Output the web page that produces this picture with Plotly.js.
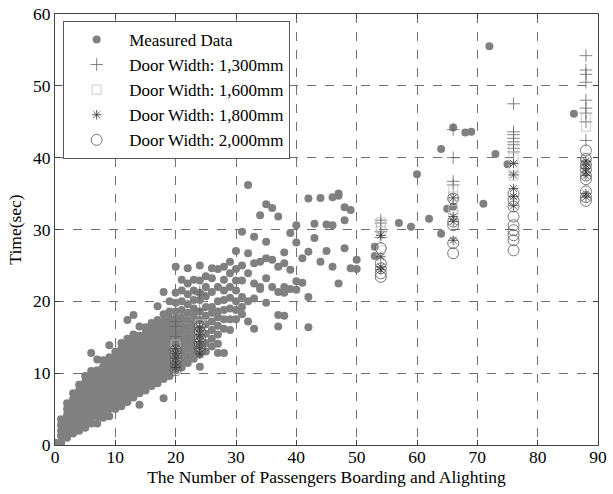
<!DOCTYPE html>
<html><head><meta charset="utf-8">
<script src="https://cdn.plot.ly/plotly-3.0.1.min.js"></script>
<style>html,body{margin:0;padding:0;background:#fff}#chart{width:613px;height:494px}</style>
</head><body><div id="chart"></div>
<script>
// Measured data: [passengers, time]
const measured = [
[0,0],[0,0.3],
[1,0],[1,0.4],[1,1.3],[1,2],[1,2.8],[1,3.6],
[2,1],[2,1.8],[2,2.6],[2,3.4],[2,4.2],[2,5],[2,5.8],
[3,1.6],[3,2.4],[3,3.2],[3,4],[3,4.8],[3,5.6],[3,6.4],[3,7.2],
[4,2],[4,2.8],[4,3.6],[4,4.4],[4,5.2],[4,6],[4,6.8],[4,7.6],[4,8.4],
[5,2.4],[5,3.2],[5,4],[5,4.8],[5,5.6],[5,6.4],[5,7.2],[5,8],[5,8.8],[5,9.6],
[6,3],[6,3.8],[6,4.6],[6,5.4],[6,6.2],[6,7],[6,7.8],[6,8.6],[6,9.4],[6,10.3],[6,12.8],
[7,3],[7,4],[7,4.8],[7,5.6],[7,6.4],[7,7.2],[7,8],[7,8.8],[7,9.6],[7,10.4],[7,11.9],
[8,3.8],[8,4.6],[8,5.4],[8,6.2],[8,7],[8,7.8],[8,8.6],[8,9.4],[8,10.2],[8,11],[8,11.8],
[9,4],[9,5],[9,5.8],[9,6.6],[9,7.4],[9,8.2],[9,9],[9,9.8],[9,10.6],[9,11.4],[9,12.2],[9,13.9],
[10,5],[10,5.8],[10,6.6],[10,7.4],[10,8.2],[10,9],[10,9.8],[10,10.6],[10,11.4],[10,12.2],[10,13],
[11,5.4],[11,6.2],[11,7],[11,7.8],[11,8.6],[11,9.4],[11,10.2],[11,11],[11,11.8],[11,12.6],[11,13.4],[11,14.2],
[12,6],[12,6.8],[12,7.6],[12,8.4],[12,9.2],[12,10],[12,10.8],[12,11.6],[12,12.4],[12,13.2],[12,14],[12,14.8],[12,17.4],
[13,6.6],[13,7.4],[13,8.2],[13,9],[13,9.8],[13,10.6],[13,11.4],[13,12.2],[13,13],[13,13.8],[13,14.6],[13,15.4],[13,18.1],
[14,5.6],[14,7.2],[14,8],[14,8.8],[14,9.6],[14,10.4],[14,11.2],[14,12],[14,12.8],[14,13.6],[14,14.4],[14,15.2],[14,16.5],
[15,7.6],[15,8.4],[15,9.2],[15,10],[15,10.8],[15,11.6],[15,12.4],[15,13.2],[15,14],[15,14.8],[15,15.6],[15,16.4],
[16,8.2],[16,9],[16,9.8],[16,10.6],[16,11.4],[16,12.2],[16,13],[16,13.8],[16,14.6],[16,15.4],[16,16.2],[16,17],
[17,8.6],[17,9.4],[17,10.2],[17,11],[17,11.8],[17,12.6],[17,13.4],[17,14.2],[17,15],[17,15.8],[17,16.6],[17,17.4],[17,19.3],
[18,6.5],[18,9.2],[18,10],[18,10.8],[18,11.6],[18,12.4],[18,13.2],[18,14],[18,14.8],[18,15.6],[18,16.4],[18,17.2],[18,18.2],[18,21.3],
[19,9.6],[19,10.4],[19,11.2],[19,12],[19,12.8],[19,13.6],[19,14.4],[19,15.2],[19,16],[19,16.8],[19,17.6],[19,18.6],[19,20],
[20,10.4],[20,11.2],[20,12],[20,12.8],[20,13.6],[20,14.4],[20,15.2],[20,16],[20,16.8],[20,17.6],[20,18.6],[20,19.8],[20,21.2],[20,24.8],
[21,10.8],[21,11.8],[21,12.8],[21,13.8],[21,14.8],[21,15.8],[21,16.8],[21,17.8],[21,18.8],[21,20],[21,21.5],[21,23],
[22,11.4],[22,12.4],[22,13.4],[22,14.4],[22,15.4],[22,16.4],[22,17.4],[22,18.4],[22,19.6],[22,21],[22,22.5],[22,24.6],
[23,12],[23,13],[23,14],[23,15],[23,16],[23,17],[23,18],[23,19],[23,20.2],[23,21.5],[23,23],
[24,10.9],[24,12.6],[24,13.8],[24,15],[24,16.2],[24,17.4],[24,18.6],[24,20.2],[24,21.2],[24,22.9],[24,25],
[25,13],[25,14.2],[25,15.5],[25,16.8],[25,18],[25,19.2],[25,20.7],[25,22],[25,23.5],
[26,13.7],[26,14.8],[26,16],[26,17.2],[26,18.4],[26,19.2],[26,21.3],[26,23.2],[26,24.6],
[27,12.8],[27,14.1],[27,15.4],[27,16.6],[27,17.8],[27,18.6],[27,20],[27,22],[27,24.5],
[28,12.8],[28,16.2],[28,17.5],[28,18.8],[28,20.2],[28,21.5],[28,23],[28,24.8],
[29,16],[29,17.5],[29,19],[29,20.5],[29,22],[29,23.9],[29,25.5],
[30,17.5],[30,18.8],[30,20],[30,21.5],[30,22.9],[30,24.5],[30,27],
[31,18.2],[31,19.2],[31,20.6],[31,22.9],[31,25],[31,29.7],
[32,17.2],[32,20],[32,23.9],[32,26.7],[32,36.2],
[33,16.2],[33,20.4],[33,22.5],[33,25.3],[33,29],
[34,21.7],[34,22],[34,25.5],[34,32],
[35,19.8],[35,23.2],[35,26],[35,28.3],[35,33.5],
[36,22],[36,25.8],[36,33],
[37,16.5],[37,18.1],[37,21.3],[37,24.8],[37,31.8],
[38,18],[38,21.2],[38,22],[38,25.3],[38,26.8],
[39,21.7],[39,24.4],[39,29.5],
[40,21.6],[40,22.8],[40,28.2],[40,30.6],
[41,22.6],[41,26],
[42,16.4],[42,20.6],[42,26.9],[42,34.3],
[43,28.8],[43,30.8],
[44,25.5],[44,34.4],
[45,27],[45,30.7],
[46,24.8],[46,34.5],[46,30.6],
[47,35],[47,34.7],[47,22.5],
[48,33.1],[48,31.3],[48,27.4],
[49,24.6],[49,32.7],
[50,24.5],[50,25.8],
[53,27.6],[53,26.3],
[57,30.9],[59,30.4],[60,37.7],[62,31.5],[64,29.4],[64,41.2],
[65,32.9],[66,33.2],[66,44.2],[68,43.5],[69,43.6],[71,33.6],
[72,55.5],[73,40.5],[75,39.1],[86,46.1]
];

// Simulated results: columns at these passenger counts
const simX = [20, 24, 54, 66, 76, 88];
const w1300 = [[17.2,16.5,15.1,14.6,13.2],[21.3,20.9,18.8,16.5],[31.3,30.9,29.7,28.9],[43.9,40,36.7,36.2],[47.5,43.6,43.2,42.7,42.2,41.8,41.3,40.8],[54.2,52.2,51.6,50.5,48,46.9,46.2,45,42.4]];
const w1600 = [[14,13,12.5,12],[16.8,16,15,14],[31,30.4,29.8,27.1],[35.5,34.6,32.7,32],[41.5,40,38.5,37.5],[45.5,44.3,40,39]];
const w1800 = [[13.4,12.7,12.1,11.4,10.8],[16.3,15.4,14.4,13.4,12.7],[29.2,26.2,24.8,24.4],[34.4,31.8,31.1,28.5],[39.2,37.6,35.7,34.6,33.3],[39.5,39,38.5,38,37.5,35,34.5]];
const w2000 = [[13.2,12.6,11.9,11.2,10.4],[16.5,15.8,14.9,14.2,13.7,13.2],[27.4,25.3,24.6,23.9,23.4],[34.3,31.1,30.6,28.1,26.7],[35,34.1,33.2,31.8,30.6,29.9,29.2,28.5,27.1],[41,39.8,39,38.3,37.5,37,35.3,34.5,34]];

const seriesNames = ['Measured Data','Door Width: 1,300mm','Door Width: 1,600mm','Door Width: 1,800mm','Door Width: 2,000mm'];
const xTicks = [0,10,20,30,40,50,60,70,80,90];
const yTicks = [0,10,20,30,40,50,60];

function flatten(cols){
  const x=[],y=[];
  cols.forEach((c,i)=>c.forEach(v=>{x.push(simX[i]);y.push(v);}));
  return {x,y};
}
const s1=flatten(w1300), s2=flatten(w1600), s3=flatten(w1800), s4=flatten(w2000);

const traces = [
  {x: measured.map(p=>p[0]), y: measured.map(p=>p[1]), mode:'markers', type:'scatter', name:seriesNames[0],
   marker:{symbol:'circle', size:8, color:'#808080', line:{width:0}}},
  {x:s1.x, y:s1.y, mode:'markers', type:'scatter', name:seriesNames[1],
   marker:{symbol:'cross-thin-open', size:9, color:'#666666', line:{width:0.8, color:'#666666'}}},
  {x:s2.x, y:s2.y, mode:'markers', type:'scatter', name:seriesNames[2],
   marker:{symbol:'square-open', size:9, color:'#c0c0c0', line:{width:0.8, color:'#c0c0c0'}}},
  {x:s3.x, y:s3.y, mode:'markers', type:'scatter', name:seriesNames[3],
   marker:{symbol:'asterisk-open', size:8, color:'#333333', line:{width:0.8, color:'#333333'}}},
  {x:s4.x, y:s4.y, mode:'markers', type:'scatter', name:seriesNames[4],
   marker:{symbol:'circle-open', size:11, color:'#555555', line:{width:0.8, color:'#555555'}}}
];

const axisCommon = {
  showline:true, linecolor:'#444444', linewidth:1, mirror:'ticks',
  ticks:'inside', ticklen:5, tickcolor:'#444444',
  showgrid:true, gridcolor:'#707070', griddash:'dash', gridwidth:1,
  zeroline:false, tickfont:{family:'Liberation Serif, Times New Roman, serif', size:17.5, color:'#000'}
};

const layout = {
  width:613, height:494,
  margin:{l:55, r:15, t:14, b:49},
  paper_bgcolor:'#fff', plot_bgcolor:'#fff',
  showlegend:true,
  font:{family:'Liberation Serif, Times New Roman, serif', size:17, color:'#000'},
  xaxis: Object.assign({}, axisCommon, {range:[0,90], tickvals:xTicks, ticktext:xTicks.map(String),
     ticklabelstandoff:-4,
     title:{text:'The Number of Passengers Boarding and Alighting', font:{size:17.5}, standoff:0}}),
  yaxis: Object.assign({}, axisCommon, {range:[0,60], tickvals:yTicks, ticktext:yTicks.map(String),
     title:{text:'Time(sec)', font:{size:17.5}, standoff:6}}),
  legend:{x:0.015, y:0.984, xanchor:'left', yanchor:'top', bgcolor:'#fff',
     bordercolor:'#555555', borderwidth:1, font:{size:17}, tracegroupgap:0, itemwidth:55}
};

Plotly.newPlot('chart', traces, layout, {staticPlot:true, displayModeBar:false});
</script></body></html>
